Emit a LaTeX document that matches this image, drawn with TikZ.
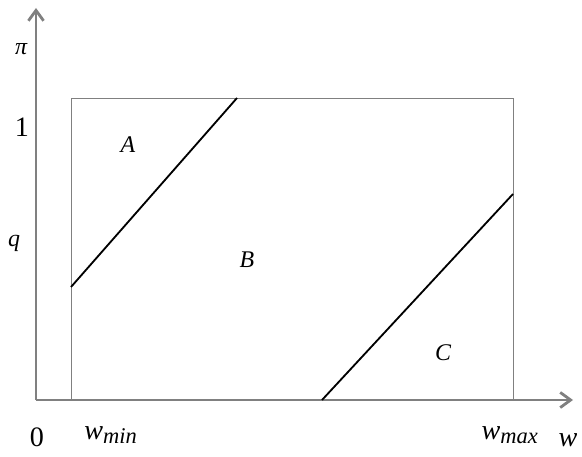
\documentclass[tikz,border=0pt]{standalone}
\usepackage{fontspec}
\setmainfont{Liberation Serif}
\usepackage{tikz}
\usetikzlibrary{arrows.meta}

\begin{document}
\begin{tikzpicture}[x=0.025cm, y=-0.025cm,
  axis/.style={draw=black!50, line width=2pt, -{Straight Barb[length=2.6mm, width=3.8mm]}},
  frame/.style={draw=black!50, line width=0.7pt},
  bound/.style={draw=black, line width=1.3pt},
  lbl/.style={font=\fontsize{17}{19}\selectfont\itshape, inner sep=0pt},
  num/.style={font=\fontsize{20}{22}\selectfont, inner sep=0pt}]
\useasboundingbox (0,0) rectangle (582,457);
% axes
\coordinate (o) at (36,400);
\coordinate (ytip) at (36,8);
\coordinate (xtip) at (573,400);
\draw[axis] (o) -- (ytip);
\draw[axis] (o) -- (xtip);
% feasible box
\coordinate (bl) at (71,400);
\coordinate (tr) at (513,98);
\draw[frame] (bl) rectangle (tr);
% region boundaries
\coordinate (a1) at (71,287);  \coordinate (a2) at (237,98);
\coordinate (c1) at (322,400); \coordinate (c2) at (513,194);
\draw[bound] (a1) -- (a2);
\draw[bound] (c1) -- (c2);
% labels
\node[lbl] (pi) at (21,49) {π};
\node[num] (one) at (22,127) {1};
\node[lbl] (q) at (14,243) {q};
\node[lbl] (A) at (128,145) {A};
\node[lbl] (B) at (247,260) {B};
\node[lbl] (C) at (443,353) {C};
\node[num] (zero) at (37,437) {0};
\node[num] (wmin) at (111,435) {\itshape w\textsubscript{\fontsize{16}{18}\selectfont min}};
\node[num] (wmax) at (510,435) {\itshape w\textsubscript{\fontsize{16}{18}\selectfont max}};
\node[num] (w) at (568,440) {\itshape w};
\end{tikzpicture}
\end{document}
